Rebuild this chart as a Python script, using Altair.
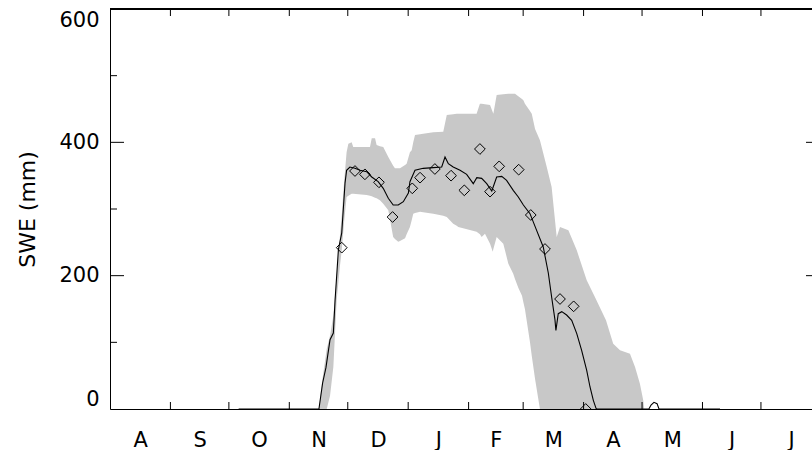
import altair as alt
import pandas as pd

# ---- data (day = days since 1 Aug) ----
line_day = [66, 107.2, 109.1, 110.8, 112.9, 114.6, 115.5, 117.2, 118.9, 120.6, 121.4, 123.1,
            125.7, 128.3, 131.7, 134.3, 137.6, 140.2, 142.8, 145.3, 147.9, 150.5, 153.1,
            153.9, 156.5, 160.7, 165.9, 170.2, 171.9, 173.6, 176.1, 179.6, 183.0, 186.4,
            188.2, 190.7, 193.3, 195.9, 198.4, 201.0, 203.5, 206.9, 209.5, 212.1, 215.5,
            218.9, 222.3, 224.9, 226.6, 228.3, 228.8, 230.0, 231.8, 234.3, 236.9, 239.5,
            242.0, 244.6, 246.3, 248.0, 249.4, 249.9, 276.5, 277.6, 279.1, 280.7, 281.7, 313]
line_swe = [0, 0, 39, 62, 104, 114, 164, 239, 264, 339, 358, 363,
            361, 358, 356, 348, 341, 331, 316, 306, 306, 311, 324,
            341, 358, 361, 362, 363, 378, 368, 363, 358, 352, 338,
            347, 346, 338, 327, 348, 349, 343, 328, 318, 306, 293,
            268, 243, 204, 168, 134, 118, 143, 146, 141, 133, 113,
            88, 58, 33, 13, 1, 0, 0, 6, 10, 8, 0, 0]

band_day = [107.2, 108.8, 111.2, 112.9, 114.6, 116.3, 118.0, 118.9, 120.1, 121.4, 122.3, 124.0,
            124.8, 131.7, 133.4, 134.3, 136.0, 136.8, 138.5, 140.2, 142.8, 145.3, 146.2,
            147.9, 148.8, 151.4, 152.2, 153.9, 154.8, 155.6, 156.5, 159.1, 160.7, 165.9,
            171.0, 172.8, 176.1, 177.9, 178.7, 181.2, 188.1, 189.8, 190.7, 192.4, 195.0,
            196.4, 196.7, 198.4, 201.8, 204.4, 206.9, 207.8, 209.5, 211.4, 212.1, 212.9,
            215.5, 216.4, 218.1, 220.6, 224.1, 226.6, 229.2, 230.9, 235.2, 239.5, 244.6,
            248.8, 254.5, 258.2, 261.7, 266.8, 269.4, 271.9, 273.6, 274.1]
band_hi = [0, 40, 90, 110, 140, 200, 260, 290, 340, 385, 398, 400,
           393, 393, 393, 406, 406, 396, 394, 393, 378, 365, 361,
           361, 361, 366, 368, 385, 388, 400, 411, 412, 413, 415,
           416, 441, 442, 443, 443, 443, 443, 458, 458, 457, 456,
           445, 443, 471, 472, 473, 473, 473, 469, 465, 463, 458,
           447, 443, 420, 403, 363, 333, 258, 273, 268, 238, 193,
           168, 133, 98, 88, 83, 63, 38, 13, 0]
band_lo = [0, 0, 0, 20, 63, 163, 215, 238, 280, 318, 320, 323,
           323, 321, 320, 319, 317, 316, 313, 308, 298, 258, 255,
           251, 252, 256, 262, 273, 283, 293, 294, 296, 295, 293,
           290, 288, 278, 275, 273, 271, 266, 262, 258, 263, 248,
           236, 240, 258, 248, 218, 203, 195, 182, 170, 160, 150,
           100, 80, 45, 0, 0, 0, 0, 0, 0, 0, 0,
           0, 0, 0, 0, 0, 0, 0, 0, 0]

obs_day = [118.9, 125.7, 130.8, 138.0, 145.0, 155.1, 159.1, 166.7, 175.0, 181.8,
           189.8, 195.0, 199.7, 209.7, 215.9, 223.2, 230.9, 237.9, 244.1]
obs_swe = [242, 357, 352, 340, 288, 331, 347, 360, 350, 328,
           390, 326, 364, 359, 291, 240, 165, 154, 0]

month_letters = ["A", "S", "O", "N", "D", "J", "F", "M", "A", "M", "J", "J"]
month_mid_day = [15.5, 46, 76.5, 107, 137.5, 168.5, 198, 227.5, 258, 288.5, 319, 349.5]
month_start_day = [31, 61, 92, 122, 153, 184, 212, 243, 273, 304, 334]
y_labels = [0, 200, 400, 600]
y_major = [200, 400]
y_minor = [100, 300, 500]

# ---- layout / style ----
W, H = 702, 400
FONT = "DejaVu Sans"
FW = "normal"
FS = 21
GRAY = "#c8c8c8"

label_expr = "''"
for d, l in reversed(list(zip(month_mid_day, month_letters))):
    label_expr = f"datum.value == {d} ? '{l}' : ({label_expr})"

xscale = alt.Scale(domain=[0, 360.2], nice=False, zero=False)
yscale = alt.Scale(domain=[0, 600], nice=False, zero=True)

xaxis = alt.Axis(values=month_mid_day, labelExpr=label_expr, ticks=False, grid=False,
                 domain=True, domainColor="black", domainWidth=1,
                 labelFont=FONT, labelFontSize=FS, labelFontWeight=FW, labelColor="black",
                 labelPadding=20, labelFlush=False, labelOverlap=False, title=None, zindex=1)
yaxis = alt.Axis(values=y_labels, ticks=False, grid=False, domain=True,
                 domainColor="black", domainWidth=1,
                 labelFont=FONT, labelFontSize=FS, labelFontWeight=FW, labelColor="black",
                 labelPadding=11, labelFlush=True, labelOverlap=False,
                 title="SWE (mm)", titleFont=FONT, titleFontSize=22, titleColor="black",
                 titleFontWeight=FW, titleX=-83, titleY=H / 2, titleAngle=270,
                 titleAlign="center", titleBaseline="middle", zindex=1)


def X():
    return alt.X("day:Q", scale=xscale, axis=xaxis)


def Y():
    return alt.Y("swe:Q", scale=yscale, axis=yaxis)


band_df = pd.DataFrame({"day": band_day, "swe": band_hi, "lo": band_lo})
line_df = pd.DataFrame({"day": line_day, "swe": line_swe})
obs_df = pd.DataFrame({"day": obs_day, "swe": obs_swe})
mtick_df = pd.DataFrame({"day": month_start_day})
ymaj_df = pd.DataFrame({"swe": y_major})
ymin_df = pd.DataFrame({"swe": y_minor})

band = alt.Chart(band_df).mark_area(color=GRAY, opacity=1, clip=True).encode(
    x=X(), y=Y(), y2="lo:Q")

line = alt.Chart(line_df).mark_line(color="black", strokeWidth=1.1, clip=True).encode(
    x=X(), y=Y())

obs = alt.Chart(obs_df).mark_point(shape="diamond", filled=False, color="black",
                                   strokeWidth=1, size=115, opacity=1, clip=True).encode(
    x=X(), y=Y())

bottom_ticks = alt.Chart(mtick_df).mark_rule(color="black", strokeWidth=1).encode(
    x=X(), y=alt.value(H), y2=alt.value(H - 7))
top_ticks = alt.Chart(mtick_df).mark_rule(color="black", strokeWidth=1).encode(
    x=X(), y=alt.value(0), y2=alt.value(7))
left_major = alt.Chart(ymaj_df).mark_rule(color="black", strokeWidth=1).encode(
    y=Y(), x=alt.value(0), x2=alt.value(14))
left_minor = alt.Chart(ymin_df).mark_rule(color="black", strokeWidth=1).encode(
    y=Y(), x=alt.value(0), x2=alt.value(7))
right_major = alt.Chart(ymaj_df).mark_rule(color="black", strokeWidth=1).encode(
    y=Y(), x=alt.value(W - 6), x2=alt.value(W))
top_frame = alt.Chart(mtick_df).mark_rule(color="black", strokeWidth=1).encode(
    x=alt.value(0), x2=alt.value(W), y=alt.value(0))

chart = alt.layer(
    band, line, obs, bottom_ticks, top_ticks, left_major, left_minor, right_major, top_frame
).properties(
    width=W, height=H,
    autosize=alt.AutoSizeParams(type="none"),
    padding={"left": 110, "top": 9, "right": 0, "bottom": 41},
).configure_view(stroke=None).configure(background="white")

chart.save("out.html", embed_options={"renderer": "svg", "actions": False})
